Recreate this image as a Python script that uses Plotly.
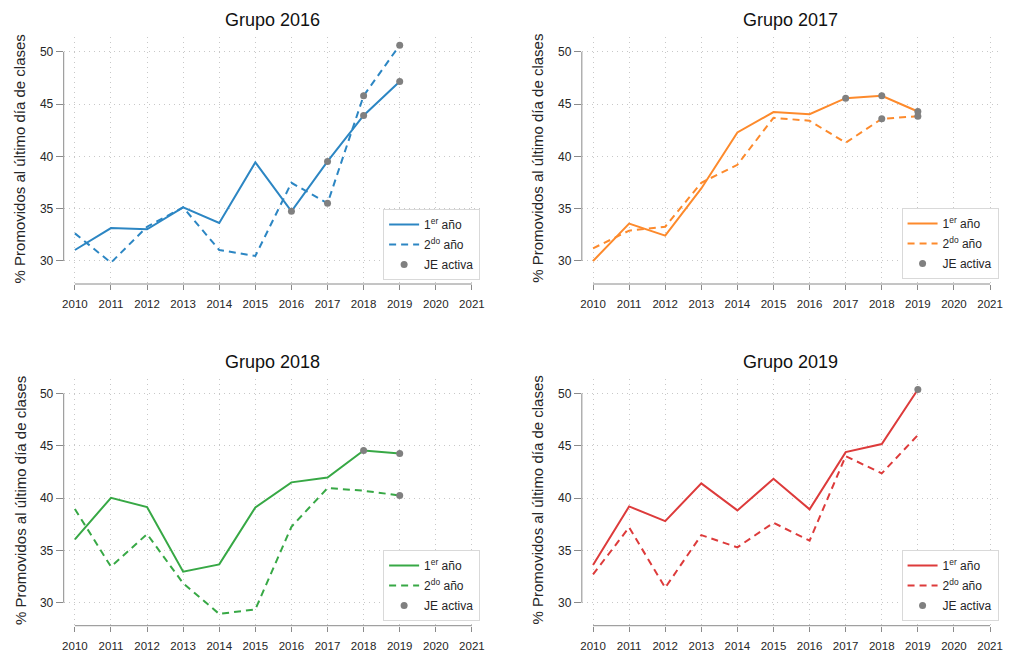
import plotly.graph_objects as go

# ---------------- data ----------------
years = [2010, 2011, 2012, 2013, 2014, 2015, 2016, 2017, 2018, 2019]
x_tick_vals = [2010, 2011, 2012, 2013, 2014, 2015, 2016, 2017, 2018, 2019, 2020, 2021]
y_tick_vals = [30, 35, 40, 45, 50]
titles = ["Grupo 2016", "Grupo 2017", "Grupo 2018", "Grupo 2019"]
y_title = "% Promovidos al último día de clases"
legend_names = ["1<sup>er</sup> año", "2<sup>do</sup> año", "JE activa"]

g2016_1er = [31.05, 33.15, 33.03, 35.13, 33.63, 39.43, 34.75, 39.52, 43.92, 47.17]
g2016_2do = [32.64, 29.84, 33.28, 35.13, 31.05, 30.48, 37.48, 35.51, 45.80, 50.64]
g2017_1er = [30.00, 33.57, 32.42, 36.94, 42.29, 44.24, 44.04, 45.57, 45.80, 44.30]
g2017_2do = [31.21, 32.90, 33.28, 37.48, 39.20, 43.69, 43.41, 41.31, 43.60, 43.85]
g2018_1er = [36.05, 40.03, 39.14, 32.96, 33.66, 39.11, 41.50, 41.97, 44.55, 44.27]
g2018_2do = [38.95, 33.44, 36.56, 31.85, 28.92, 29.36, 37.26, 40.96, 40.70, 40.25]
g2019_1er = [33.60, 39.20, 37.80, 41.40, 38.82, 41.85, 38.92, 44.39, 45.16, 50.38]
g2019_2do = [32.71, 37.20, 31.43, 36.46, 35.29, 37.64, 35.92, 44.01, 42.36, 46.02]

# years with "JE activa" marked on each series
je_1er = [[2016, 2017, 2018, 2019], [2017, 2018, 2019], [2018, 2019], [2019]]
je_2do = [[2017, 2018, 2019], [2018, 2019], [2019], []]

series_1er = [g2016_1er, g2017_1er, g2018_1er, g2019_1er]
series_2do = [g2016_2do, g2017_2do, g2018_2do, g2019_2do]
colors = ["#2c86c3", "#fd8a2c", "#37a845", "#dd3b3b"]

# ---------------- layout geometry ----------------
W, H = 1019, 653
col_x = [[62 / W, 482 / W], [582.7 / W, 1002.7 / W]]
row_y = [[1 - 284 / H, 1 - 37 / H], [1 - 625.7 / H, 1 - 378.6 / H]]
x_range = [2009.69, 2021.27]
y_range = [27.8, 51.42]
legend_pos = [(383, 209), (904, 208), (383, 550), (904, 550)]

FONT = "Arial, Liberation Sans, sans-serif"
AXIS_GRAY = "#8a8a8a"
GRID_GRAY = "#c8c8c8"
TEXT = "#262626"

fig = go.Figure()
layout = dict(
    width=W, height=H,
    margin=dict(l=0, r=0, t=0, b=0),
    paper_bgcolor="white", plot_bgcolor="white",
    font=dict(family=FONT, color=TEXT),
    showlegend=True,
    annotations=[], shapes=[],
)

for i in range(4):
    r, c = divmod(i, 2)
    sfx = "" if i == 0 else str(i + 1)
    xa, ya = "x" + sfx, "y" + sfx
    leg = "legend" + sfx
    col = colors[i]

    fig.add_trace(go.Scatter(
        x=years, y=series_1er[i], mode="lines", name=legend_names[0],
        line=dict(color=col, width=2), xaxis=xa, yaxis=ya, legend=leg,
        legendgroup=f"a{i}"))
    fig.add_trace(go.Scatter(
        x=years, y=series_2do[i], mode="lines", name=legend_names[1],
        line=dict(color=col, width=2, dash="7px,5px"), xaxis=xa, yaxis=ya,
        legend=leg, legendgroup=f"b{i}"))
    jx = [yr for yr in je_1er[i]] + [yr for yr in je_2do[i]]
    jy = [series_1er[i][years.index(yr)] for yr in je_1er[i]] + \
         [series_2do[i][years.index(yr)] for yr in je_2do[i]]
    fig.add_trace(go.Scatter(
        x=jx, y=jy, mode="markers", name=legend_names[2],
        marker=dict(color="#808080", size=7), xaxis=xa, yaxis=ya,
        legend=leg, legendgroup=f"c{i}"))

    layout["xaxis" + sfx] = dict(
        domain=col_x[c], range=x_range, anchor=ya,
        tickmode="array", tickvals=x_tick_vals,
        ticks="outside", ticklen=5, tickcolor=AXIS_GRAY, tickwidth=1,
        ticklabelstandoff=4,
        tickfont=dict(size=11.5, color=TEXT, family=FONT),
        showline=False, zeroline=False,
        showgrid=True, gridcolor=GRID_GRAY, gridwidth=1, griddash="1px,4px",
        fixedrange=True,
    )
    layout["yaxis" + sfx] = dict(
        domain=row_y[r], range=y_range, anchor=xa,
        tickmode="array", tickvals=y_tick_vals,
        ticks="outside", ticklen=7, tickcolor=AXIS_GRAY, tickwidth=1,
        tickfont=dict(size=12, color=TEXT, family=FONT),
        showline=False, zeroline=False,
        showgrid=True, gridcolor=GRID_GRAY, gridwidth=1, griddash="1px,4px",
        fixedrange=True,
    )
    lx, ly = legend_pos[i]
    layout[leg] = dict(
        x=lx / W, y=1 - ly / H, xanchor="left", yanchor="top",
        bgcolor="white", bordercolor="#d9d9d9", borderwidth=1,
        font=dict(size=12, color=TEXT, family=FONT),
        tracegroupgap=1, itemwidth=30,
    )

    # R-style axis lines that only span the tick range
    layout["shapes"].append(dict(
        type="line", xref=xa, yref=ya + " domain",
        x0=x_tick_vals[0], x1=x_tick_vals[-1], y0=0, y1=0,
        line=dict(color=AXIS_GRAY, width=1)))
    layout["shapes"].append(dict(
        type="line", xref=xa + " domain", yref=ya,
        x0=0, x1=0, y0=y_tick_vals[0], y1=y_tick_vals[-1],
        line=dict(color=AXIS_GRAY, width=1)))

    # titles
    cx = (col_x[c][0] + col_x[c][1]) / 2
    ty = [20, 362][r]
    layout["annotations"].append(dict(
        text=titles[i], xref="paper", yref="paper",
        x=cx - 0.5 / W, y=1 - ty / H, xanchor="center", yanchor="middle",
        showarrow=False, font=dict(size=18, color="#111111", family=FONT)))
    # y-axis title
    cy = (row_y[r][0] + row_y[r][1]) / 2
    yx = [18, 538][c]
    layout["annotations"].append(dict(
        text=y_title, xref="paper", yref="paper",
        x=yx / W, y=cy + 2 / H, xanchor="center", yanchor="middle",
        textangle=-90, showarrow=False,
        font=dict(size=15, color=TEXT, family=FONT)))

fig.update_layout(**layout)
fig.write_html(
    "out.html",
    config={"displayModeBar": False},
    post_script="document.body.style.margin='0';document.body.style.padding='0';",
)
